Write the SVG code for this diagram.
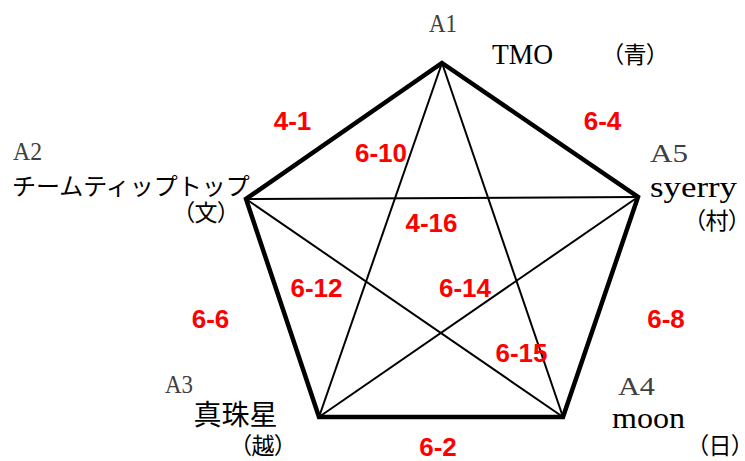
<svg xmlns="http://www.w3.org/2000/svg" width="745" height="461" viewBox="0 0 745 461">
<style>
.edge{stroke:#000;stroke-width:4.5;fill:none;stroke-linejoin:miter;stroke-linecap:square}
.diag{stroke:#000;stroke-width:2;fill:none}
.aid{font-family:"Liberation Serif",serif;font-size:25px;fill:#404040}
.nm{font-family:"Liberation Serif","Noto Sans CJK JP",serif;font-size:30px;fill:#000}
.jp{font-family:"Noto Sans CJK JP",sans-serif;fill:#000}
.par{font-family:"Noto Sans CJK JP",sans-serif;font-size:23px;fill:#000;text-anchor:middle;font-feature-settings:"palt"}
.num{font-family:"Liberation Sans",sans-serif;font-weight:bold;font-size:26px;fill:#ff0000;text-anchor:middle}
</style>
<rect width="745" height="461" fill="#fff"/>
<g id="connectors">
<polygon class="edge" points="442,63 638,197 563,417 319,417 246,199"/>
<line class="diag" x1="442" y1="63" x2="319" y2="417"/>
<line class="diag" x1="442" y1="63" x2="563" y2="417"/>
<line class="diag" x1="246" y1="199" x2="638" y2="197"/>
<line class="diag" x1="246" y1="199" x2="563" y2="417"/>
<line class="diag" x1="638" y1="197" x2="319" y2="417"/>
</g>
<g id="A1">
<text class="aid" x="429" y="32" textLength="28" lengthAdjust="spacingAndGlyphs">A1</text>
<text class="nm" x="492" y="64" textLength="61" lengthAdjust="spacingAndGlyphs">TMO</text>
<text class="par" x="635" y="63">（青）</text>
</g>
<g id="A2">
<text class="aid" x="13" y="160" textLength="29" lengthAdjust="spacingAndGlyphs">A2</text>
<text class="jp" x="12" y="195" font-size="24">チームティップトップ</text>
<text class="par" x="206" y="221">（文）</text>
</g>
<g id="A3">
<text class="aid" x="165" y="393" textLength="28" lengthAdjust="spacingAndGlyphs">A3</text>
<text class="jp" x="235.5" y="425" font-size="28" text-anchor="middle">真珠星</text>
<text class="par" x="263" y="454">（越）</text>
</g>
<g id="A4">
<text class="aid" x="618" y="395" textLength="37" lengthAdjust="spacingAndGlyphs">A4</text>
<text class="nm" x="612" y="428" textLength="73" lengthAdjust="spacingAndGlyphs">moon</text>
<text class="par" x="720" y="454">（日）</text>
</g>
<g id="A5">
<text class="aid" x="650" y="162" textLength="38" lengthAdjust="spacingAndGlyphs">A5</text>
<text class="nm" x="650" y="197" textLength="87" lengthAdjust="spacingAndGlyphs">syerry</text>
<text class="par" x="717" y="229">（村）</text>
</g>
<g id="labels">
<text class="num" x="292.5" y="130">4-1</text>
<text class="num" x="602.5" y="130">6-4</text>
<text class="num" x="381" y="162">6-10</text>
<text class="num" x="431.5" y="232">4-16</text>
<text class="num" x="316.5" y="297">6-12</text>
<text class="num" x="465" y="297">6-14</text>
<text class="num" x="521.5" y="362">6-15</text>
<text class="num" x="438" y="456">6-2</text>
<text class="num" x="210.5" y="328">6-6</text>
<text class="num" x="666" y="328">6-8</text>
</g>
</svg>
